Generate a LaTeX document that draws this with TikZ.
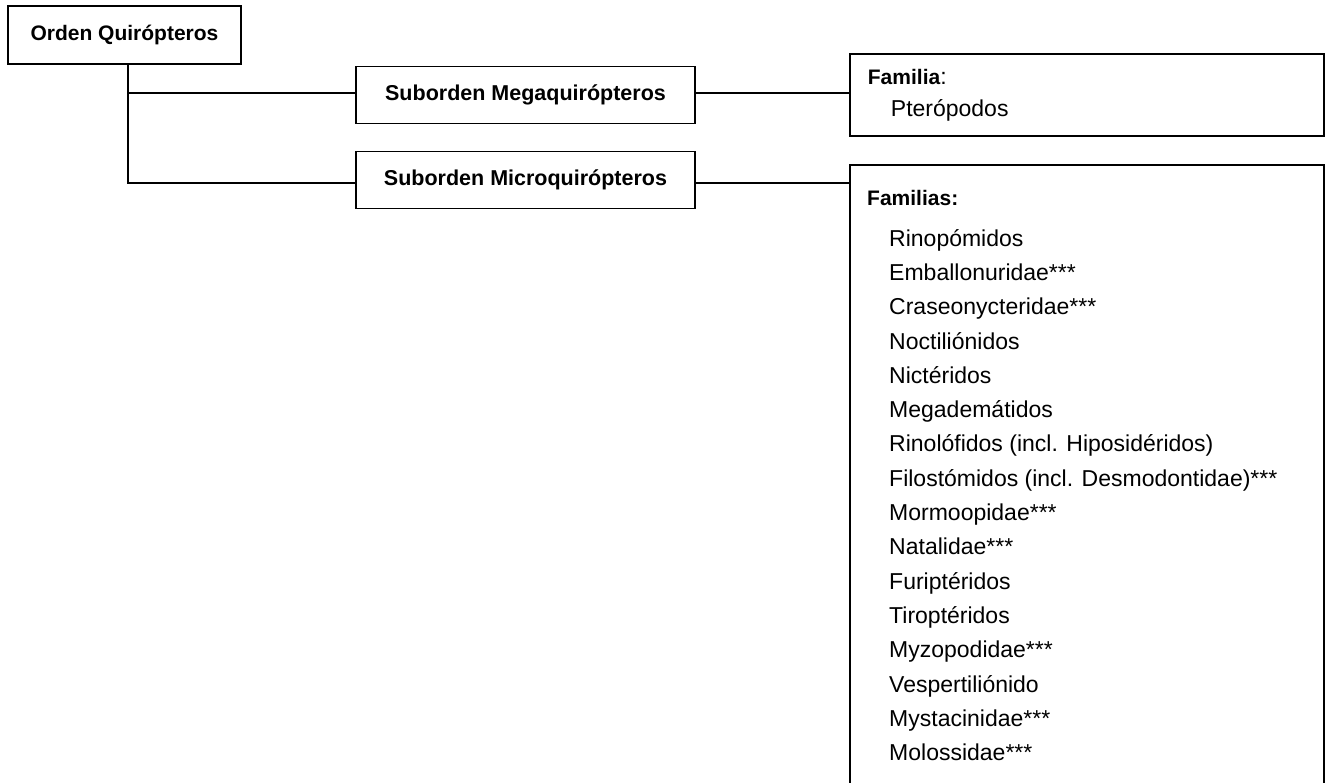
\documentclass[tikz,border=0pt]{standalone}
\usepackage{fontspec}
\setmainfont{Liberation Sans}
\usetikzlibrary{positioning}
\tikzset{
  ordenbox/.style={
    rectangle, draw, line width=1.8pt,
    minimum width=233pt, minimum height=58pt, inner sep=0pt,
    font=\fontsize{21}{25}\selectfont\bfseries
  },
  subbox/.style={
    rectangle, draw, line width=1.8pt,
    minimum width=339pt, minimum height=57pt, inner sep=0pt,
    font=\fontsize{21.5}{25}\selectfont\bfseries
  },
  familybox/.style={
    rectangle, draw, line width=1.8pt, anchor=north west,
    minimum width=474pt
  },
  link/.style={line width=1.8pt},
}

\begin{document}
\begin{tikzpicture}[x=1pt, y=-1pt]
  \useasboundingbox (0,0) rectangle (1327,783);
  \clip (0,0) rectangle (1327,783);

  % Orden y subordenes
  \node[ordenbox] (orden) at (124.5,35) {Orden Quirópteros};
  \node[subbox] (mega)  at (525.5,95)  {Suborden Megaquirópteros};
  \node[subbox] (micro) at (525.5,180) {Suborden Microquirópteros};

  % Familias
  \node[familybox, minimum height=82pt, align=left, text width=438pt,
        inner xsep=18pt, font=\fontsize{23}{32}\selectfont] (famMega) at (849,53)
        {{\fontsize{21}{32}\selectfont\bfseries Familia}:\\\hspace*{23pt}Pterópodos};
  \node[familybox, minimum height=660pt] (famMicro) at (849,164) {};
  \node[anchor=base west, inner sep=0pt,
        font=\fontsize{21}{25}\selectfont\bfseries] (famHead) at (867,206) {Familias:};
  \node[anchor=north west, align=left, inner sep=0pt,
        font=\fontsize{23}{34.3}\selectfont] (famList) at (889,229)
        {Rinopómidos\\
         Emballonuridae***\\
         Craseonycteridae***\\
         Noctiliónidos\\
         Nictéridos\\
         Megademátidos\\
         Rinolófidos (incl. Hiposidéridos)\\
         Filostómidos (incl. Desmodontidae)***\\
         Mormoopidae***\\
         Natalidae***\\
         Furiptéridos\\
         Tiroptéridos\\
         Myzopodidae***\\
         Vespertiliónido\\
         Mystacinidae***\\
         Molossidae***};

  % Lineas
  \draw[link] ([xshift=3.5pt]orden.south) |- ([yshift=2pt]mega.west);
  \draw[link] ([xshift=3.5pt]orden.south) |- ([yshift=-3pt]micro.west);
  \draw[link] ([yshift=2pt]mega.east) -- ([yshift=2pt]mega.east -| famMega.west);
  \draw[link] ([yshift=-3pt]micro.east) -- ([yshift=-3pt]micro.east -| famMicro.west);

\end{tikzpicture}
\end{document}
